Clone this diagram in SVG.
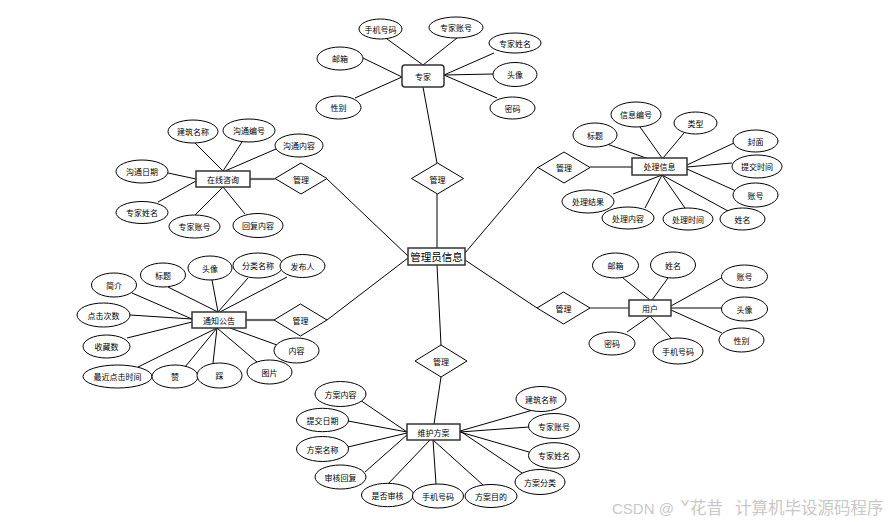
<svg xmlns="http://www.w3.org/2000/svg" width="891" height="522" viewBox="0 0 891 522">
<style>
.e{fill:#fff;stroke:#000;stroke-width:1}
.b{fill:#fff;stroke:#333;stroke-width:1.5}
.d{fill:#fff;stroke:#000;stroke-width:1}
.l{stroke:#000;stroke-width:1;fill:none}
.g{stroke:#666;stroke-width:2.2;fill:none}
text{font-family:"Noto Sans CJK SC","Liberation Sans",sans-serif;font-size:8px;text-anchor:middle;dominant-baseline:central;fill:#000}
.t11{font-size:10.5px}
.wm{font-family:"Liberation Sans","Noto Sans CJK SC",sans-serif;font-size:15px;fill:#c8c8c8;text-anchor:start;dominant-baseline:alphabetic}
.wc{font-family:"Noto Sans CJK SC",sans-serif;font-size:16.5px}
</style>
<rect width="891" height="522" fill="#fff"/>
<g id="connectors">
<line class="l" x1="423" y1="87" x2="437" y2="163"/>
<line class="l" x1="437" y1="194" x2="437" y2="248"/>
<line class="l" x1="437" y1="265" x2="441" y2="345"/>
<line class="l" x1="441" y1="377" x2="434" y2="424"/>
<line class="l" x1="327" y1="179" x2="408" y2="256"/>
<line class="l" x1="327" y1="320" x2="408" y2="258"/>
<line class="l" x1="538" y1="167" x2="465" y2="253"/>
<line class="l" x1="537" y1="308" x2="465" y2="260"/>
<line class="g" x1="250" y1="179" x2="275" y2="179"/>
<line class="g" x1="246" y1="320" x2="274" y2="320"/>
<line class="l" x1="590" y1="167" x2="632" y2="167"/>
<line class="g" x1="590" y1="308" x2="629" y2="308" style="stroke-width:1.4"/>
<line class="l" x1="387" y1="39" x2="423" y2="65"/>
<line class="l" x1="457" y1="38" x2="423" y2="65"/>
<line class="l" x1="363" y1="58" x2="402" y2="77"/>
<line class="l" x1="355" y1="98" x2="402" y2="77"/>
<line class="l" x1="494" y1="53" x2="444" y2="75"/>
<line class="l" x1="493" y1="74" x2="444" y2="75"/>
<line class="l" x1="497" y1="98" x2="444" y2="75"/>
<line class="l" x1="195" y1="143" x2="223" y2="171"/>
<line class="l" x1="242" y1="142" x2="223" y2="171"/>
<line class="l" x1="276" y1="149" x2="225" y2="171"/>
<line class="l" x1="168" y1="173" x2="196" y2="179"/>
<line class="l" x1="158" y1="202" x2="196" y2="181"/>
<line class="l" x1="195" y1="215" x2="223" y2="187"/>
<line class="l" x1="245" y1="214" x2="223" y2="187"/>
<line class="l" x1="607" y1="144" x2="660" y2="163"/>
<line class="l" x1="640" y1="127" x2="662" y2="158"/>
<line class="l" x1="684" y1="133" x2="663" y2="158"/>
<line class="l" x1="734" y1="143" x2="687" y2="165"/>
<line class="l" x1="732" y1="163" x2="687" y2="167"/>
<line class="l" x1="736" y1="191" x2="687" y2="169"/>
<line class="l" x1="728" y1="211" x2="662" y2="175"/>
<line class="l" x1="613" y1="194" x2="662" y2="175"/>
<line class="l" x1="645" y1="208" x2="662" y2="175"/>
<line class="l" x1="685" y1="208" x2="662" y2="175"/>
<line class="l" x1="132" y1="293" x2="192" y2="319"/>
<line class="l" x1="168" y1="287" x2="218" y2="312"/>
<line class="l" x1="212" y1="280" x2="218" y2="312"/>
<line class="l" x1="248" y1="278" x2="218" y2="312"/>
<line class="l" x1="287" y1="277" x2="220" y2="312"/>
<line class="l" x1="130" y1="315" x2="192" y2="319"/>
<line class="l" x1="127" y1="338" x2="192" y2="322"/>
<line class="l" x1="138" y1="367" x2="217" y2="328"/>
<line class="l" x1="185" y1="367" x2="217" y2="328"/>
<line class="l" x1="213" y1="363" x2="217" y2="328"/>
<line class="l" x1="257" y1="362" x2="217" y2="328"/>
<line class="l" x1="277" y1="345" x2="230" y2="328"/>
<line class="l" x1="623" y1="278" x2="650" y2="300"/>
<line class="l" x1="668" y1="278" x2="652" y2="300"/>
<line class="l" x1="723" y1="277" x2="671" y2="306"/>
<line class="l" x1="722" y1="308" x2="671" y2="308"/>
<line class="l" x1="722" y1="333" x2="671" y2="310"/>
<line class="l" x1="627" y1="332" x2="650" y2="316"/>
<line class="l" x1="672" y1="339" x2="650" y2="316"/>
<line class="l" x1="360" y1="400" x2="407" y2="432"/>
<line class="l" x1="348" y1="421" x2="407" y2="432"/>
<line class="l" x1="348" y1="447" x2="407" y2="433"/>
<line class="l" x1="365" y1="472" x2="408" y2="434"/>
<line class="l" x1="387" y1="485" x2="430" y2="440"/>
<line class="l" x1="436" y1="484" x2="433" y2="440"/>
<line class="l" x1="483" y1="485" x2="433" y2="440"/>
<line class="l" x1="525" y1="475" x2="460" y2="431"/>
<line class="l" x1="529" y1="452" x2="460" y2="432"/>
<line class="l" x1="529" y1="427" x2="460" y2="432"/>
<line class="l" x1="533" y1="410" x2="460" y2="431"/>
</g>
<g id="admin"><rect class="b" x="408" y="248" width="57" height="17"/><text class="t11" x="436.5" y="256.5">管理员信息</text></g>
<g id="rel-top"><polygon class="d" points="437.5,163 463.5,178.5 437.5,194 411.5,178.5"/><text x="437.5" y="179">管理</text></g>
<g id="rel-bottom"><polygon class="d" points="441,345 467,361 441,377 415,361"/><text x="441" y="361">管理</text></g>
<g id="rel-zixun"><polygon class="d" points="301,163 327,178.5 301,194 275,178.5"/><text x="301" y="179">管理</text></g>
<g id="rel-gonggao"><polygon class="d" points="300.5,304 327,320 300.5,336 274,320"/><text x="300.5" y="320">管理</text></g>
<g id="rel-chuli"><polygon class="d" points="564,152 590,167.5 564,183 538,167.5"/><text x="564" y="167.5">管理</text></g>
<g id="rel-yonghu"><polygon class="d" points="563.5,292 590,308 563.5,324 537,308"/><text x="563.5" y="308">管理</text></g>

<g id="zhuanjia"><rect class="b" x="402" y="65" width="42" height="22" rx="3"/><text x="423" y="76">专家</text></g>
<g id="zj-phone"><ellipse class="e" cx="380.5" cy="29" rx="21.5" ry="10"/><text x="380.5" y="29">手机号码</text></g>
<g id="zj-account"><ellipse class="e" cx="456" cy="27.5" rx="27" ry="10.5"/><text x="456" y="27.5">专家账号</text></g>
<g id="zj-name"><ellipse class="e" cx="515" cy="43" rx="26" ry="10"/><text x="515" y="43">专家姓名</text></g>
<g id="zj-email"><ellipse class="e" cx="340" cy="58.5" rx="23" ry="11.5"/><text x="340" y="58.5">邮箱</text></g>
<g id="zj-avatar"><ellipse class="e" cx="515" cy="74.5" rx="22" ry="12"/><text x="515" y="74.5">头像</text></g>
<g id="zj-sex"><ellipse class="e" cx="338.5" cy="107.5" rx="22.5" ry="11.5"/><text x="338.5" y="107.5">性别</text></g>
<g id="zj-pwd"><ellipse class="e" cx="512.5" cy="108" rx="22.5" ry="11"/><text x="512.5" y="108">密码</text></g>

<g id="zaixian"><rect class="b" x="196" y="171" width="54" height="16"/><text x="223" y="179">在线咨询</text></g>
<g id="zx-1"><ellipse class="e" cx="193" cy="131.5" rx="25" ry="11.5"/><text x="193" y="131.5">建筑名称</text></g>
<g id="zx-2"><ellipse class="e" cx="249" cy="130.5" rx="26" ry="11.5"/><text x="249" y="130.5">沟通编号</text></g>
<g id="zx-3"><ellipse class="e" cx="299" cy="145.5" rx="24" ry="11.5"/><text x="299" y="145.5">沟通内容</text></g>
<g id="zx-4"><ellipse class="e" cx="142" cy="171.5" rx="26" ry="11.5"/><text x="142" y="171.5">沟通日期</text></g>
<g id="zx-5"><ellipse class="e" cx="142" cy="212.5" rx="26" ry="11"/><text x="142" y="212.5">专家姓名</text></g>
<g id="zx-6"><ellipse class="e" cx="194.5" cy="226.5" rx="25.5" ry="11.5"/><text x="194.5" y="226.5">专家账号</text></g>
<g id="zx-7"><ellipse class="e" cx="258" cy="225.5" rx="25" ry="12"/><text x="258" y="225.5">回复内容</text></g>

<g id="chuli"><rect class="b" x="632" y="158" width="55" height="17"/><text x="659.5" y="166.5">处理信息</text></g>
<g id="cl-1"><ellipse class="e" cx="595" cy="135" rx="22" ry="12"/><text x="595" y="135">标题</text></g>
<g id="cl-2"><ellipse class="e" cx="636" cy="114.5" rx="25" ry="12.5"/><text x="636" y="114.5">信息编号</text></g>
<g id="cl-3"><ellipse class="e" cx="695.5" cy="123" rx="21.5" ry="11"/><text x="695.5" y="123">类型</text></g>
<g id="cl-4"><ellipse class="e" cx="755.5" cy="141" rx="22.5" ry="11"/><text x="755.5" y="141">封面</text></g>
<g id="cl-5"><ellipse class="e" cx="757" cy="166.5" rx="25" ry="11.5"/><text x="757" y="166.5">提交时间</text></g>
<g id="cl-6"><ellipse class="e" cx="755.5" cy="195" rx="22.5" ry="12"/><text x="755.5" y="195">账号</text></g>
<g id="cl-7"><ellipse class="e" cx="588" cy="201.5" rx="26" ry="11.5"/><text x="588" y="201.5">处理结果</text></g>
<g id="cl-8"><ellipse class="e" cx="628" cy="218" rx="26" ry="11"/><text x="628" y="218">处理内容</text></g>
<g id="cl-9"><ellipse class="e" cx="688" cy="219" rx="25" ry="11"/><text x="688" y="219">处理时间</text></g>
<g id="cl-10"><ellipse class="e" cx="742.5" cy="219" rx="22.5" ry="11"/><text x="742.5" y="219">姓名</text></g>

<g id="tongzhi"><rect class="b" x="192" y="312" width="54" height="16"/><text x="219" y="320">通知公告</text></g>
<g id="tz-1"><ellipse class="e" cx="114" cy="285" rx="22.5" ry="12"/><text x="114" y="285">简介</text></g>
<g id="tz-2"><ellipse class="e" cx="163" cy="275" rx="22.5" ry="12"/><text x="163" y="275">标题</text></g>
<g id="tz-3"><ellipse class="e" cx="210" cy="268" rx="22" ry="12"/><text x="210" y="268">头像</text></g>
<g id="tz-4"><ellipse class="e" cx="258" cy="265.5" rx="25" ry="12.5"/><text x="258" y="265.5">分类名称</text></g>
<g id="tz-5"><ellipse class="e" cx="302.5" cy="266" rx="22.5" ry="11.5"/><text x="302.5" y="266">发布人</text></g>
<g id="tz-6"><ellipse class="e" cx="103.5" cy="315" rx="26.5" ry="12"/><text x="103.5" y="315">点击次数</text></g>
<g id="tz-7"><ellipse class="e" cx="106.5" cy="346.5" rx="23.5" ry="11.5"/><text x="106.5" y="346.5">收藏数</text></g>
<g id="tz-8"><ellipse class="e" cx="117.5" cy="376.5" rx="34.5" ry="11.5"/><text x="117.5" y="376.5">最近点击时间</text></g>
<g id="tz-9"><ellipse class="e" cx="175" cy="376.5" rx="23" ry="11.5"/><text x="175" y="376.5">赞</text></g>
<g id="tz-10"><ellipse class="e" cx="219.5" cy="375.5" rx="22.5" ry="12.5"/><text x="219.5" y="375.5">踩</text></g>
<g id="tz-11"><ellipse class="e" cx="269.5" cy="372" rx="22.5" ry="12"/><text x="269.5" y="372">图片</text></g>
<g id="tz-12"><ellipse class="e" cx="296.5" cy="350.5" rx="22.5" ry="12.5"/><text x="296.5" y="350.5">内容</text></g>

<g id="yonghu"><rect class="b" x="629" y="300" width="42" height="16"/><text x="650" y="308">用户</text></g>
<g id="yh-1"><ellipse class="e" cx="615.5" cy="265.5" rx="23" ry="12.5"/><text x="615.5" y="265.5">邮箱</text></g>
<g id="yh-2"><ellipse class="e" cx="673" cy="265" rx="22.5" ry="13"/><text x="673" y="265">姓名</text></g>
<g id="yh-3"><ellipse class="e" cx="744.5" cy="276.5" rx="23" ry="11.5"/><text x="744.5" y="276.5">账号</text></g>
<g id="yh-4"><ellipse class="e" cx="744.5" cy="309" rx="23" ry="12"/><text x="744.5" y="309">头像</text></g>
<g id="yh-5"><ellipse class="e" cx="741.5" cy="340" rx="22.5" ry="12"/><text x="741.5" y="340">性别</text></g>
<g id="yh-6"><ellipse class="e" cx="612" cy="343.5" rx="23" ry="11.5"/><text x="612" y="343.5">密码</text></g>
<g id="yh-7"><ellipse class="e" cx="678" cy="351" rx="25" ry="13"/><text x="678" y="351">手机号码</text></g>

<g id="weihu"><rect class="b" x="407" y="424" width="53" height="16"/><text x="433.5" y="432">维护方案</text></g>
<g id="wh-1"><ellipse class="e" cx="340.5" cy="394" rx="25.5" ry="12.5"/><text x="340.5" y="394">方案内容</text></g>
<g id="wh-2"><ellipse class="e" cx="322.5" cy="420" rx="26" ry="11.7"/><text x="322.5" y="420">提交日期</text></g>
<g id="wh-3"><ellipse class="e" cx="322.5" cy="449" rx="26" ry="12.5"/><text x="322.5" y="449">方案名称</text></g>
<g id="wh-4"><ellipse class="e" cx="340.5" cy="477" rx="25.5" ry="12"/><text x="340.5" y="477">审核回复</text></g>
<g id="wh-5"><ellipse class="e" cx="387.5" cy="495" rx="26" ry="11.7"/><text x="387.5" y="495">是否审核</text></g>
<g id="wh-6"><ellipse class="e" cx="438" cy="496" rx="25.5" ry="12"/><text x="438" y="496">手机号码</text></g>
<g id="wh-7"><ellipse class="e" cx="491" cy="496" rx="26" ry="11.5"/><text x="491" y="496">方案目的</text></g>
<g id="wh-8"><ellipse class="e" cx="540" cy="482" rx="25" ry="12.5"/><text x="540" y="482">方案分类</text></g>
<g id="wh-9"><ellipse class="e" cx="554" cy="455.5" rx="25.5" ry="12.8"/><text x="554" y="455.5">专家姓名</text></g>
<g id="wh-10"><ellipse class="e" cx="554" cy="426" rx="25.5" ry="12.5"/><text x="554" y="426">专家账号</text></g>
<g id="wh-11"><ellipse class="e" cx="541" cy="399" rx="25" ry="12.5"/><text x="541" y="399">建筑名称</text></g>

<text class="wm" x="612" y="514">CSDN @ <tspan class="wc" x="680">ˇ花昔</tspan><tspan class="wc" x="735">计算机毕设源码程序</tspan></text>
</svg>
